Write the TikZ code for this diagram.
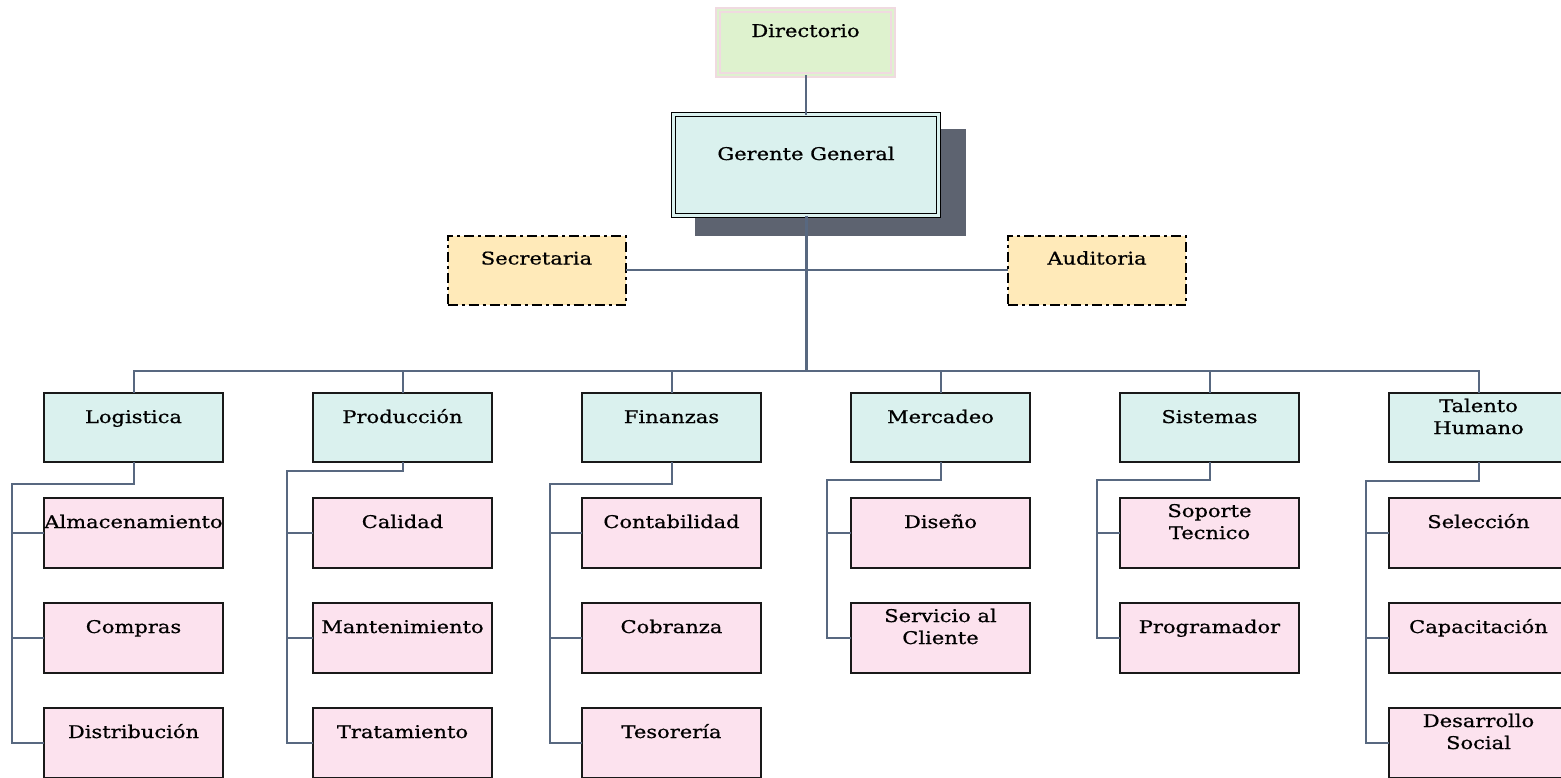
\documentclass[tikz,border=0pt]{standalone}
\usepackage{fontspec}
\setmainfont{DejaVu Serif}[FakeStretch=1.2,FakeBold=0.8]
\usetikzlibrary{calc}
\definecolor{linec}{RGB}{88,104,128}
\definecolor{shadowc}{RGB}{93,99,112}
\definecolor{cyanf}{RGB}{218,241,238}
\definecolor{pinkf}{RGB}{252,226,238}
\definecolor{goldf}{RGB}{255,234,185}
\definecolor{greenf}{RGB}{222,242,206}
\definecolor{pinkb}{RGB}{240,218,224}
\newcommand\stt{\rule[-5pt]{0pt}{20pt}}
\begin{document}
\begin{tikzpicture}[x=1pt,y=-1pt,
  box/.style={draw=black!90, line width=1.5pt, minimum width=179pt, minimum height=69pt, inner sep=0pt, outer sep=0pt, anchor=north west},
  lvl/.style={box, fill=cyanf},
  leaf/.style={box, fill=pinkf, minimum height=70pt},
  staff/.style={draw=black, line width=2pt, dash pattern=on 10pt off 4pt on 3pt off 4pt, fill=goldf, minimum width=178pt, minimum height=69pt, inner sep=0pt, outer sep=0pt},
  txt/.style={font=\fontsize{17.5}{22}\selectfont, align=center, inner sep=0pt, anchor=center, text=black},
  conn/.style={draw=linec, line width=2pt},
  trunk/.style={draw=linec, line width=3pt}]
\useasboundingbox (0,0) rectangle (1561,777);

% top
\node[draw=pinkb, line width=1.6pt, double=greenf, double distance=2.6pt, fill=greenf, minimum width=175pt, minimum height=65pt, inner sep=0pt, outer sep=0pt] (dir) at (805.5,42.5) {};
\node[txt] (tdir) at ($(dir.north)+(0,22)$) {\stt Directorio};

\fill[shadowc] (695,129) rectangle (966,236);
\node[draw=black, line width=1.2pt, double=cyanf, double distance=2.6pt, fill=cyanf, minimum width=265pt, minimum height=101pt, inner sep=0pt, outer sep=0pt] (ger) at (806,165) {};
\node[txt] (tger) at ($(ger.north)+(0,40.5)$) {\stt Gerente General};

\node[staff] (sec) at (536.5,270) {};
\node[txt] (tsec) at ($(sec.north)+(0,24)$) {\stt Secretaria};
\node[staff] (aud) at (1097,270) {};
\node[txt] (taud) at ($(aud.north)+(0,24)$) {\stt Auditoria};

% level 2
\node[lvl] (log) at (44,393) {};
\node[lvl] (pro) at (313,393) {};
\node[lvl] (fin) at (582,393) {};
\node[lvl] (mer) at (851,393) {};
\node[lvl] (sis) at (1120,393) {};
\node[lvl] (tal) at (1389,393) {};
\node[txt] (tlog) at ($(log.north)+(0,25)$) {\stt Logistica};
\node[txt] (tpro) at ($(pro.north)+(0,25)$) {\stt Producción};
\node[txt] (tfin) at ($(fin.north)+(0,25)$) {\stt Finanzas};
\node[txt] (tmer) at ($(mer.north)+(0,25)$) {\stt Mercadeo};
\node[txt] (tsis) at ($(sis.north)+(0,25)$) {\stt Sistemas};
\node[txt] (ttal) at ($(tal.north)+(0,25)$) {\stt Talento\\\stt Humano};

% leaves
\node[leaf] (l1) at (44,498) {};
\node[leaf] (l2) at (44,603) {};
\node[leaf] (l3) at (44,708) {};
\node[leaf] (p1) at (313,498) {};
\node[leaf] (p2) at (313,603) {};
\node[leaf] (p3) at (313,708) {};
\node[leaf] (f1) at (582,498) {};
\node[leaf] (f2) at (582,603) {};
\node[leaf] (f3) at (582,708) {};
\node[leaf] (m1) at (851,498) {};
\node[leaf] (m2) at (851,603) {};
\node[leaf] (s1) at (1120,498) {};
\node[leaf] (s2) at (1120,603) {};
\node[leaf] (h1) at (1389,498) {};
\node[leaf] (h2) at (1389,603) {};
\node[leaf] (h3) at (1389,708) {};
\node[txt] (tl1) at ($(l1.north)+(0,25)$) {\stt Almacenamiento};
\node[txt] (tl2) at ($(l2.north)+(0,25)$) {\stt Compras};
\node[txt] (tl3) at ($(l3.north)+(0,25)$) {\stt Distribución};
\node[txt] (tp1) at ($(p1.north)+(0,25)$) {\stt Calidad};
\node[txt] (tp2) at ($(p2.north)+(0,25)$) {\stt Mantenimiento};
\node[txt] (tp3) at ($(p3.north)+(0,25)$) {\stt Tratamiento};
\node[txt] (tf1) at ($(f1.north)+(0,25)$) {\stt Contabilidad};
\node[txt] (tf2) at ($(f2.north)+(0,25)$) {\stt Cobranza};
\node[txt] (tf3) at ($(f3.north)+(0,25)$) {\stt Tesorería};
\node[txt] (tm1) at ($(m1.north)+(0,25)$) {\stt Diseño};
\node[txt] (tm2) at ($(m2.north)+(0,25)$) {\stt Servicio al\\\stt Cliente};
\node[txt] (ts1) at ($(s1.north)+(0,25)$) {\stt Soporte\\\stt Tecnico};
\node[txt] (ts2) at ($(s2.north)+(0,25)$) {\stt Programador};
\node[txt] (th1) at ($(h1.north)+(0,25)$) {\stt Selección};
\node[txt] (th2) at ($(h2.north)+(0,25)$) {\stt Capacitación};
\node[txt] (th3) at ($(h3.north)+(0,25)$) {\stt Desarrollo\\\stt Social};

% connectors
\coordinate (bus) at (806,371);
\draw[conn] (dir.south) -- (dir.south |- ger.north);
\draw[conn] (sec.east) -- (aud.west);
\draw[trunk] (ger.south) -- (ger.south |- bus);
\draw[conn] (bus) -| (log.north);
\draw[conn] (bus) -| (pro.north);
\draw[conn] (bus) -| (fin.north);
\draw[conn] (bus) -| (mer.north);
\draw[conn] (bus) -| (sis.north);
\draw[conn] (bus) -| (tal.north);

\coordinate (bl) at (12,484);
\coordinate (bp) at (287,471);
\coordinate (bf) at (550,484);
\coordinate (bm) at (827,480);
\coordinate (bs) at (1097,480);
\coordinate (bh) at (1366,481);

\draw[conn] (log.south) |- (bl) |- (l3.west);
\draw[conn] (bl |- l1.west) -- (l1.west);
\draw[conn] (bl |- l2.west) -- (l2.west);
\draw[conn] (pro.south) |- (bp) |- (p3.west);
\draw[conn] (bp |- p1.west) -- (p1.west);
\draw[conn] (bp |- p2.west) -- (p2.west);
\draw[conn] (fin.south) |- (bf) |- (f3.west);
\draw[conn] (bf |- f1.west) -- (f1.west);
\draw[conn] (bf |- f2.west) -- (f2.west);
\draw[conn] (mer.south) |- (bm) |- (m2.west);
\draw[conn] (bm |- m1.west) -- (m1.west);
\draw[conn] (sis.south) |- (bs) |- (s2.west);
\draw[conn] (bs |- s1.west) -- (s1.west);
\draw[conn] (tal.south) |- (bh) |- (h3.west);
\draw[conn] (bh |- h1.west) -- (h1.west);
\draw[conn] (bh |- h2.west) -- (h2.west);
\end{tikzpicture}
\end{document}
